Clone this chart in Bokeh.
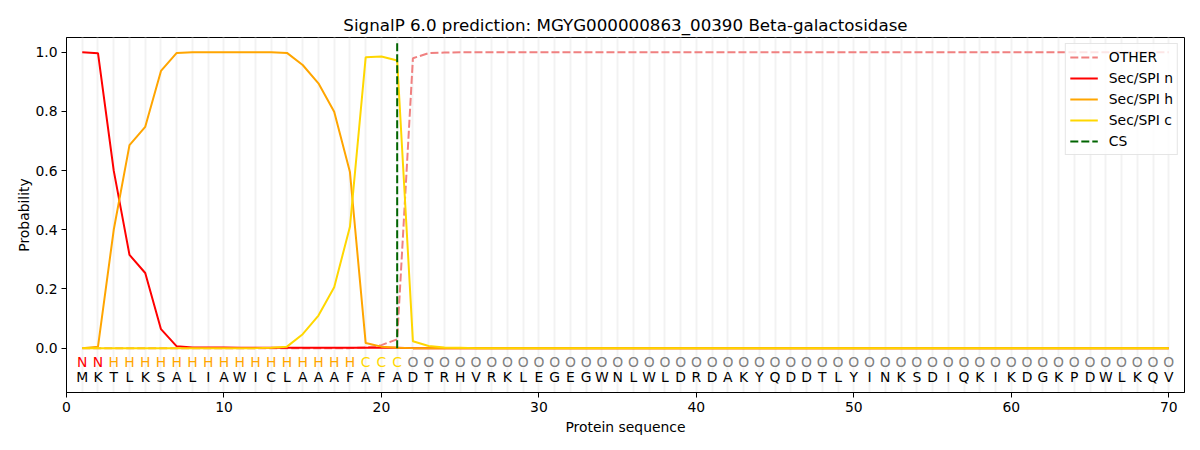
from bokeh.plotting import figure
from bokeh.models import Range1d, FixedTicker, PrintfTickFormatter, ColumnDataSource, Legend, LegendItem
from bokeh.embed import file_html
from bokeh.resources import INLINE
from bokeh.core.properties import value

# ---------------- data ----------------
sequence = list("MKTLKSALIAWICLAAAFAFADTRHVRKLEGEGWNLWLDRDAKYQDDTLYINKSDIQKIKDGKPDWLKQV")
labels = ["N"] * 2 + ["H"] * 16 + ["C"] * 3 + ["O"] * 49
positions = list(range(1, 71))

sec_n = [1.0, 0.997, 0.60, 0.315, 0.254, 0.064, 0.006, 0.002, 0.002, 0.002,
         0.001, 0.001, 0.001, 0.001, 0.001, 0.001, 0.001, 0.001, 0.001, 0.001,
         0.001] + [0.0] * 49
sec_h = [0.0, 0.005, 0.40, 0.686, 0.748, 0.937, 0.998, 1.0, 1.0, 1.0,
         1.0, 1.0, 1.0, 0.998, 0.957, 0.895, 0.799, 0.595, 0.017, 0.005,
         0.001] + [0.0] * 49
sec_c = [0.0] * 12 + [0.001, 0.005, 0.047, 0.11, 0.206, 0.41, 0.983, 0.986,
                      0.972, 0.023, 0.007, 0.002, 0.001] + [0.0] * 45
other = [0.0] * 18 + [0.002, 0.01, 0.03, 0.98, 0.997, 0.999] + [1.0] * 46
cs_pos = 21

label_colors = {"N": "#ff0000", "H": "#ffa500", "C": "#ffd700", "O": "#808080"}

FONT = "DejaVu Sans"

p = figure(width=1192, height=442, output_backend="svg", toolbar_location=None,
           x_range=Range1d(0, 71), y_range=Range1d(-0.15, 1.05),
           frame_width=1118, frame_height=355,
           min_border_left=66, min_border_right=8, min_border_top=37, min_border_bottom=50,
           title="SignalP 6.0 prediction: MGYG000000863_00390 Beta-galactosidase")

p.title.align = "center"
p.title.text_font = FONT
p.title.text_font_size = "16.7px"
p.title.text_font_style = "normal"
p.title.text_color = "black"
p.title.offset = 0
p.title.standoff = 6

p.outline_line_color = "black"
p.outline_line_width = 1
p.background_fill_color = "white"
p.border_fill_color = "white"

p.ygrid.visible = False
p.xgrid.ticker = FixedTicker(ticks=positions)
p.xgrid.grid_line_color = "#f2f2f2"
p.xgrid.grid_line_width = 2

p.xaxis.ticker = FixedTicker(ticks=[0, 10, 20, 30, 40, 50, 60, 70])
p.yaxis.ticker = FixedTicker(ticks=[0.0, 0.2, 0.4, 0.6, 0.8, 1.0])
p.yaxis.formatter = PrintfTickFormatter(format="%.1f")
for ax in (p.xaxis, p.yaxis):
    ax.major_label_text_font = FONT
    ax.major_label_text_font_size = "13.9px"
    ax.major_label_text_color = "black"
    ax.axis_label_text_font = FONT
    ax.axis_label_text_font_size = "13.9px"
    ax.axis_label_text_font_style = "normal"
    ax.axis_label_text_color = "black"
    ax.minor_tick_line_color = None
    ax.major_tick_in = 0
    ax.major_tick_out = 5
    ax.major_label_standoff = 4
    ax.axis_line_color = "black"
    ax.major_tick_line_color = "black"
p.xaxis.axis_label = "Protein sequence"
p.yaxis.axis_label = "Probability"
p.xaxis.axis_label_standoff = 4
p.yaxis.axis_label_standoff = 0

src = ColumnDataSource(dict(x=positions, other=other, n=sec_n, h=sec_h, c=sec_c,
                            seq=sequence, lab=labels,
                            lab_col=[label_colors[l] for l in labels],
                            lab_y=[-0.046] * len(labels), seq_y=[-0.097] * len(labels)))

r_other = p.line("x", "other", source=src, line_color="#f08080", line_width=2, line_dash="8 3")
r_n = p.line("x", "n", source=src, line_color="#ff0000", line_width=2)
r_h = p.line("x", "h", source=src, line_color="#ffa500", line_width=2)
r_c = p.line("x", "c", source=src, line_color="#ffd700", line_width=2)
r_cs = p.line(x=[cs_pos, cs_pos], y=[0.0, 1.035], line_color="#006400", line_width=2, line_dash="8 3")

p.text("x", "lab_y", text="lab", source=src, text_color="lab_col", text_align="center",
       text_baseline="alphabetic", text_font=value(FONT), text_font_size="13.9px")
p.text("x", "seq_y", text="seq", source=src, text_color="black", text_align="center",
       text_baseline="alphabetic", text_font=value(FONT), text_font_size="13.9px")

legend = Legend(items=[
    LegendItem(label="OTHER", renderers=[r_other]),
    LegendItem(label="Sec/SPI n", renderers=[r_n]),
    LegendItem(label="Sec/SPI h", renderers=[r_h]),
    LegendItem(label="Sec/SPI c", renderers=[r_c]),
    LegendItem(label="CS", renderers=[r_cs]),
], location="top_right")
legend.margin = 6
legend.padding = 4
legend.spacing = 3
legend.glyph_width = 28
legend.glyph_height = 18
legend.label_height = 18
legend.label_standoff = 11
legend.label_text_font = FONT
legend.label_text_font_size = "13.9px"
legend.label_text_color = "black"
legend.border_line_color = "#cccccc"
legend.border_line_width = 1
legend.background_fill_alpha = 0.8
p.add_layout(legend)

open("out.html", "w").write(file_html(p, INLINE))
